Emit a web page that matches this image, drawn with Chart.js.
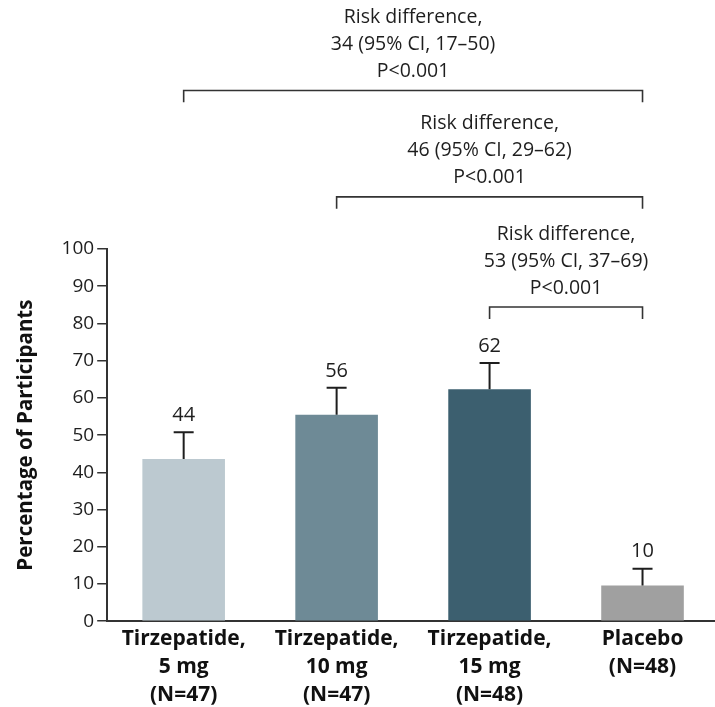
<!DOCTYPE html>
<html><head><meta charset="utf-8">
<script src="https://cdn.jsdelivr.net/npm/chart.js@4/dist/chart.umd.min.js"></script>
<style>
html,body{margin:0;padding:0;background:#fff;overflow:hidden}
#wrap{width:719px;height:707px;position:relative}
</style></head><body>
<div id="wrap"><canvas id="c"></canvas></div>
<script>
const categories = [
  ["Tirzepatide,", "5 mg", "(N=47)"],
  ["Tirzepatide,", "10 mg", "(N=47)"],
  ["Tirzepatide,", "15 mg", "(N=48)"],
  ["Placebo", "(N=48)"]
];
const percentages = [43.6, 55.5, 62.3, 9.6];
const errorUpper = [50.8, 62.7, 69.4, 14.1];
const barColors = ["#bcc9d0", "#6e8a96", "#3c5f6f", "#a0a0a0"];
const yTickValues = [0, 10, 20, 30, 40, 50, 60, 70, 80, 90, 100];
const comparisonFrom = [0, 1, 2];
const comparisonTo = [3, 3, 3];
const comparisonLevel = [142.6, 114.0, 84.4];
const comparisonText = [
  ["Risk difference,", "34 (95% CI, 17\u201350)", "P<0.001"],
  ["Risk difference,", "46 (95% CI, 29\u201362)", "P<0.001"],
  ["Risk difference,", "53 (95% CI, 37\u201369)", "P<0.001"]
];

const FONT = "'Open Sans'";
const INK = "#1e1e1e";

const annotate = {
  id: "annotate",
  afterDatasetsDraw(chart) {
    const ctx = chart.ctx;
    const x = chart.scales.x, y = chart.scales.y;
    ctx.save();
    ctx.strokeStyle = INK;
    ctx.lineWidth = 2;
    ctx.fillStyle = INK;
    ctx.font = "20px " + FONT;
    ctx.textAlign = "center";
    ctx.textBaseline = "middle";
    percentages.forEach((v, i) => {
      const cx = x.getPixelForValue(i);
      const yb = y.getPixelForValue(v);
      const ye = y.getPixelForValue(errorUpper[i]);
      ctx.beginPath();
      ctx.moveTo(cx, yb);
      ctx.lineTo(cx, ye);
      ctx.moveTo(cx - 10, ye);
      ctx.lineTo(cx + 10, ye);
      ctx.stroke();
      ctx.fillText(String(Math.round(v)), cx, ye - 17);
    });
    ctx.restore();
  },
  afterDraw(chart) {
    const ctx = chart.ctx;
    const x = chart.scales.x, y = chart.scales.y;
    ctx.save();
    ctx.strokeStyle = "#333";
    ctx.lineWidth = 1.6;
    ctx.fillStyle = INK;
    ctx.font = "19.5px " + FONT;
    ctx.textAlign = "center";
    ctx.textBaseline = "middle";
    comparisonLevel.forEach((lv, k) => {
      const x1 = x.getPixelForValue(comparisonFrom[k]);
      const x2 = x.getPixelForValue(comparisonTo[k]);
      const yy = y.getPixelForValue(lv);
      const yt = y.getPixelForValue(lv - 3.2);
      ctx.beginPath();
      ctx.moveTo(x1, yt);
      ctx.lineTo(x1, yy);
      ctx.lineTo(x2, yy);
      ctx.lineTo(x2, yt);
      ctx.stroke();
      const lines = comparisonText[k];
      const cx = (x1 + x2) / 2;
      lines.forEach((t, j) => {
        ctx.fillText(t, cx, yy - 19 - (lines.length - 1 - j) * 27);
      });
    });
    ctx.restore();
  }
};

new Chart(document.getElementById("c"), {
  type: "bar",
  data: {
    labels: categories,
    datasets: [{
      data: percentages,
      backgroundColor: barColors,
      borderWidth: 0,
      barPercentage: 0.54,
      categoryPercentage: 1.0
    }]
  },
  options: {
    responsive: true,
    maintainAspectRatio: false,
    animation: false,
    layout: { padding: { top: 249, right: 0, bottom: -6, left: 14 } },
    plugins: { legend: { display: false }, tooltip: { enabled: false } },
    scales: {
      x: {
        grid: { display: false, drawTicks: false },
        border: { display: true, color: "#333", width: 2 },
        ticks: {
          color: "#111",
          font: { family: FONT, size: 21, weight: "bold", lineHeight: 1.33 },
          padding: 4,
          maxRotation: 0,
          autoSkip: false
        }
      },
      y: {
        min: 0,
        max: 100,
        afterBuildTicks(scale) { scale.ticks = yTickValues.map(v => ({ value: v })); },
        grid: { drawOnChartArea: false, drawTicks: true, tickLength: 10, color: "#333", lineWidth: 1.5 },
        border: { display: true, color: "#333", width: 2 },
        ticks: { color: INK, font: { family: FONT, size: 19 }, padding: 3 },
        title: {
          display: true,
          text: "Percentage of Participants",
          color: "#111",
          font: { family: FONT, size: 20.5, weight: "bold" },
          padding: { top: 0, bottom: 20 }
        }
      }
    }
  },
  plugins: [annotate]
});
</script>
</body></html>
